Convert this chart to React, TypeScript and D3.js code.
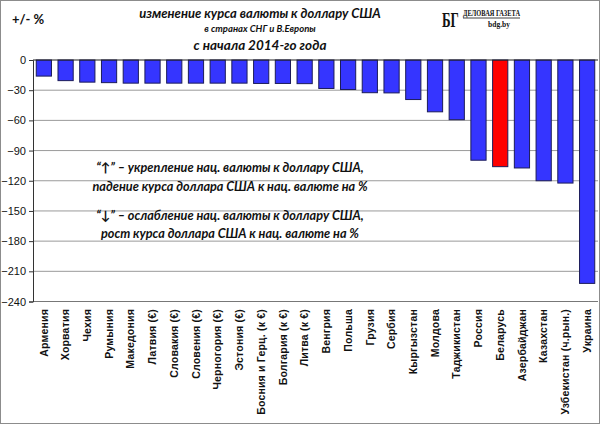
import React, { useEffect, useRef } from 'react';
import * as d3 from 'd3';

// Country names as printed under the bars
const countries: string[] = [
  'Армения', 'Хорватия', 'Чехия', 'Румыния', 'Македония', 'Латвия (€)',
  'Словакия (€)', 'Словения (€)', 'Черногория (€)', 'Эстония (€)',
  'Босния и Герц. (к €)', 'Болгария (к €)', 'Литва (к €)', 'Венгрия',
  'Польша', 'Грузия', 'Сербия', 'Кыргызстан', 'Молдова', 'Таджикистан',
  'Россия', 'Беларусь', 'Азербайджан', 'Казахстан', 'Узбекистан (ч.рын.)', 'Украина'
];

// Change in currency vs USD since the start of 2014, %
const values: number[] = [
  -16, -20.5, -22, -22.5, -23, -23, -23, -23, -23, -23,
  -23.3, -23.3, -23.5, -28.3, -29.3, -32.5, -32.7, -39.3, -51.5, -59.3,
  -99.6, -106, -107.3, -120, -122.3, -222
];

const highlight = 'Беларусь';

const yTicks: number[] = [0, -30, -60, -90, -120, -150, -180, -210, -240];

const titleLines: string[] = [
  'изменение  курса валюты к доллару США',
  'в странах СНГ и В.Европы',
  'с начала 2014-го года'
];

const noteLines: string[] = [
  '“↑” – укрепление нац. валюты к доллару США,',
  'падение курса доллара США к нац. валюте на %',
  '“↓” – ослабление нац. валюты к доллару США,',
  'рост курса доллара США к нац. валюте на %'
];

const W = 600;
const H = 424;

const App: React.FC = () => {
  const svgRef = useRef<SVGSVGElement>(null);

  useEffect(() => {
    if (!svgRef.current) return;
    const svg = d3.select(svgRef.current);
    svg.selectAll('*').remove();

    const left = 33;
    const right = 598;
    const top = 60;
    const bottom = 301.5;

    const x = d3.scaleBand<string>()
      .domain(countries)
      .range([left, right])
      .paddingInner(0.3)
      .paddingOuter(0.15);

    const y = d3.scaleLinear()
      .domain([-240, 0])
      .range([bottom, top]);

    // background and frame
    svg.append('rect')
      .attr('x', 0.5).attr('y', 0.5)
      .attr('width', W - 1).attr('height', H - 1)
      .attr('fill', '#fff')
      .attr('stroke', '#8c8c8c');

    // gridlines
    svg.append('g')
      .selectAll('line')
      .data(yTicks.filter(d => d !== 0))
      .enter()
      .append('line')
      .attr('x1', left).attr('x2', right)
      .attr('y1', d => y(d)).attr('y2', d => y(d))
      .attr('stroke', d => (d === -240 ? '#777' : '#9a9a9a'))
      .attr('stroke-width', 1);

    // bars
    svg.append('g')
      .selectAll('rect')
      .data(countries)
      .enter()
      .append('rect')
      .attr('x', d => x(d)!)
      .attr('y', y(0))
      .attr('width', x.bandwidth())
      .attr('height', (d, i) => y(values[i]) - y(0))
      .attr('fill', d => (d === highlight ? '#ff0000' : '#3535ff'))
      .attr('stroke', '#1c1c5a')
      .attr('stroke-width', 1);

    // zero line
    svg.append('line')
      .attr('x1', left).attr('x2', right)
      .attr('y1', y(0)).attr('y2', y(0))
      .attr('stroke', '#222')
      .attr('stroke-width', 1.2);

    // left axis
    const axis = svg.append('g')
      .attr('transform', `translate(${left},0)`)
      .call(d3.axisLeft(y).tickValues(yTicks).tickSize(4).tickPadding(3).tickFormat(d3.format('d')));
    axis.select('.domain').attr('stroke', '#333');
    axis.selectAll('.tick line').attr('stroke', '#333');
    axis.selectAll('text')
      .attr('font-family', 'Liberation Sans, Arial, sans-serif')
      .attr('font-size', '11px')
      .attr('fill', '#111');

    // category labels
    svg.append('g')
      .selectAll('text')
      .data(countries)
      .enter()
      .append('text')
      .attr('transform', d => `translate(${x(d)! + x.bandwidth() / 2},309) rotate(-90)`)
      .attr('text-anchor', 'end')
      .attr('dy', '0.35em')
      .attr('font-family', 'Liberation Sans, Arial, sans-serif')
      .attr('font-weight', 'bold')
      .attr('font-size', '10.5px')
      .attr('letter-spacing', '0.2px')
      .attr('fill', '#111')
      .text(d => d);

    // unit label
    svg.append('text')
      .attr('x', 12).attr('y', 24)
      .attr('font-family', 'Lato, Open Sans, sans-serif')
      .attr('font-weight', 'bold')
      .attr('font-size', '13px')
      .attr('fill', '#111')
      .text('+/- %');

    // title
    const titleY = [18, 32, 50];
    const titleSize = [13, 9.5, 13.5];
    svg.append('g')
      .selectAll('text')
      .data(titleLines)
      .enter()
      .append('text')
      .attr('x', 260)
      .attr('y', (d, i) => titleY[i])
      .attr('text-anchor', 'middle')
      .attr('font-family', 'Lato, Open Sans, sans-serif')
      .attr('font-style', 'italic')
      .attr('font-weight', 'bold')
      .attr('font-size', (d, i) => `${titleSize[i]}px`)
      .attr('fill', '#111')
      .text(d => d);

    // note
    const noteY = [172, 191, 220, 238];
    svg.append('g')
      .selectAll('text')
      .data(noteLines)
      .enter()
      .append('text')
      .attr('x', 230)
      .attr('y', (d, i) => noteY[i])
      .attr('text-anchor', 'middle')
      .attr('font-family', 'Lato, Open Sans, sans-serif')
      .attr('font-style', 'italic')
      .attr('font-weight', 'bold')
      .attr('font-size', '12.7px')
      .attr('fill', '#111')
      .text(d => d);

    // newspaper logo
    const logo = svg.append('g');
    logo.append('text')
      .attr('transform', 'translate(442,27) scale(1,1.6)')
      .attr('font-family', 'Liberation Serif, DejaVu Serif, serif')
      .attr('font-weight', 'bold')
      .attr('font-size', '13px')
      .attr('fill', '#111')
      .text('БГ');
    logo.append('text')
      .attr('x', 463).attr('y', 16)
      .attr('font-family', 'Liberation Serif, DejaVu Serif, serif')
      .attr('font-weight', 'bold')
      .attr('font-size', '8.5px')
      .attr('textLength', 57)
      .attr('lengthAdjust', 'spacingAndGlyphs')
      .attr('fill', '#111')
      .text('ДЕЛОВАЯ ГАЗЕТА');
    logo.append('line')
      .attr('x1', 463).attr('x2', 520)
      .attr('y1', 18).attr('y2', 18)
      .attr('stroke', '#111').attr('stroke-width', 0.8);
    logo.append('text')
      .attr('x', 499).attr('y', 27)
      .attr('text-anchor', 'middle')
      .attr('font-family', 'Liberation Serif, DejaVu Serif, serif')
      .attr('font-weight', 'bold')
      .attr('font-size', '7.5px')
      .attr('fill', '#111')
      .text('bdg.by');
  }, []);

  return (
    <svg
      ref={svgRef}
      width={W}
      height={H}
      style={{ position: 'absolute', left: 0, top: 0, display: 'block' }}
    />
  );
};

export default App;
